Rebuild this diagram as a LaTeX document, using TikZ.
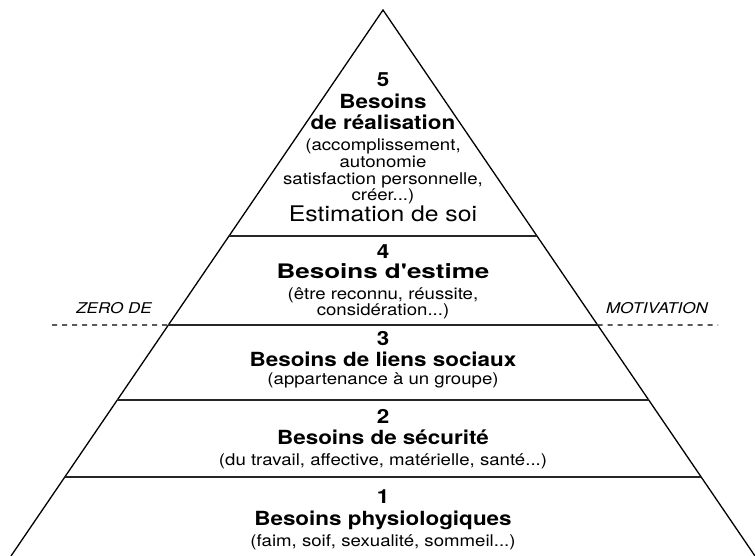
\documentclass[tikz,border=0pt]{standalone}
\usepackage{fontspec}
\setmainfont{TeX Gyre Heros}[FakeStretch=1.15]
\newfontfamily\estimefont{TeX Gyre Heros}[FakeStretch=1.3]
\usetikzlibrary{calc}

\tikzset{
  bord/.style={line width=1.3pt, line join=miter},
  niveau/.style={line width=1.4pt, draw=black!85},
  zero/.style={line width=1.3pt, dash pattern=on 5pt off 5pt},
  num/.style={font=\fontsize{19.5}{19.5}\selectfont\bfseries},
  titre/.style={font=\fontsize{19.5}{19.5}\selectfont\bfseries},
  desc/.style={font=\fontsize{16.2}{16.2}\selectfont},
  cote/.style={font=\fontsize{14.8}{14.8}\selectfont\itshape},
}

\begin{document}
\begin{tikzpicture}[x=1pt,y=-1pt]
  \useasboundingbox (0,0) rectangle (755,556);

  \coordinate (sommet) at (383,10);
  \coordinate (bg) at (11,556);
  \coordinate (bd) at (755,556);
  \draw[bord] (bg) -- (sommet) -- (bd);

  % lignes entre les niveaux
  \foreach \t/\n in {0.4139/a,0.5769/b,0.7143/c,0.8553/d} {
    \coordinate (g\n) at ($(sommet)!\t!(bg)$);
    \coordinate (d\n) at ($(sommet)!\t!(bd)$);
    \draw[niveau] (g\n) -- (d\n);
  }

  % zero de motivation
  \coordinate (zg) at (52,325);
  \coordinate (zd) at (718,325);
  \draw[zero] (zg) -- (gb);
  \draw[zero] (db) -- (zd);

  \begin{scope}[every node/.style={inner sep=0pt, text height=.72em, text depth=0pt}]
    \node[cote] (zero)  at (114,310) {ZERO DE};
    \node[cote] (motiv) at (657,310) {MOTIVATION};

    \node[num]   (n5)  at (383,83)  {5};
    \node[titre] (t5a) at (383,105) {Besoins};
    \node[titre] (t5b) at (383,126) {de réalisation};
    \node[desc]  (d5a) at (383,147) {(accomplissement,};
    \node[desc]  (d5b) at (383,164) {autonomie};
    \node[desc]  (d5c) at (383,181) {satisfaction personnelle,};
    \node[desc]  (d5d) at (383,197) {créer...)};
    \node[font=\fontsize{21.5}{21.5}\selectfont] (est) at (383,218) {Estimation de soi};

    \node[num]   (n4)  at (383,255) {4};
    \node[font=\fontsize{20}{20}\selectfont\estimefont\bfseries] (t4) at (383,275) {Besoins d'estime};
    \node[desc]  (d4a) at (383,296) {(être reconnu, réussite,};
    \node[desc]  (d4b) at (383,312) {considération...)};

    \node[num]   (n3)  at (383,342) {3};
    \node[titre] (t3)  at (383,363) {Besoins de liens sociaux};
    \node[desc]  (d3)  at (383,381) {(appartenance à un groupe)};

    \node[num]   (n2)  at (383,420) {2};
    \node[titre] (t2)  at (383,441) {Besoins de sécurité};
    \node[desc]  (d2)  at (383,462) {(du travail, affective, matérielle, santé...)};

    \node[num]   (n1)  at (383,500) {1};
    \node[titre] (t1)  at (383,522) {Besoins physiologiques};
    \node[desc]  (d1)  at (383,543) {(faim, soif, sexualité, sommeil...)};
  \end{scope}

\end{tikzpicture}
\end{document}
